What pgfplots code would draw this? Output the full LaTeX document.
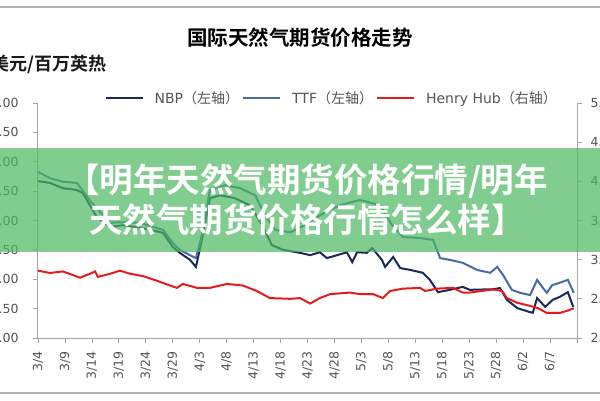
\documentclass[border=0pt]{standalone}
\usepackage{pgfplots}
\pgfplotsset{compat=1.18}
\usepackage{fontspec}
\setmainfont{DejaVu Sans}
\newfontfamily\cjk{Noto Sans CJK SC}[BoldFont={Noto Sans CJK SC Bold}]
\definecolor{nbp}{RGB}{28,40,90}
\definecolor{ttf}{RGB}{70,108,165}
\definecolor{hh}{RGB}{230,28,28}
\definecolor{axgray}{RGB}{165,165,165}
\definecolor{txtgray}{RGB}{85,85,85}
\definecolor{band}{RGB}{76,185,96}
\pgfplotsset{
  mylegimg/.style={legend image code/.code={\draw[#1] (0pt,0pt) -- (37pt,0pt);}},
  common/.style={scale only axis, width=539pt, height=235pt, at={(38pt,62pt)}, anchor=south west,
    xmin=0, xmax=100,
    tick align=outside, major tick length=5pt,
    axis line style={axgray, line width=1pt},
    tick style={axgray, line width=0.8pt},
    tick label style={font=\fontsize{12.5}{14}\selectfont, color=txtgray},
    /pgf/number format/assume math mode=true,
  },
}
\begin{document}
\begin{tikzpicture}[x=1pt,y=1pt]
\fill[white] (0,0) rectangle (600,400);
\draw[axgray!85, line width=2pt] (0,393) -- (600,393);
\draw[axgray!85, line width=2pt] (0,7) -- (600,7);
\node[font=\cjk\bfseries\fontsize{20.5}{22}\selectfont, text=black] at (300,362) {国际天然气期货价格走势};
\node[font=\cjk\bfseries\fontsize{18}{19}\selectfont, text=black!90, anchor=east] at (110,336) {美元/百万英热};

\begin{axis}[common,
  axis x line*=bottom, axis y line*=left,
  ymin=3, ymax=7, ytick={3,3.5,...,7},
  yticklabel style={xshift=-11pt, /pgf/number format/.cd, fixed, fixed zerofill, precision=2},
  xtick={0,5,...,100},
  xticklabels={3/4,3/9,3/14,3/19,3/24,3/29,4/3,4/8,4/13,4/18,4/23,4/28,5/3,5/8,5/13,5/18,5/23,5/28,6/2,6/7,{}},
  x tick label style={rotate=90, anchor=east},
  xticklabel shift=5pt,
  mylegimg,
  legend columns=3,
  legend style={at={(0.545,1.021)}, anchor=center, draw=none, fill=none,
    font=\fontsize{14}{16}\selectfont, text=txtgray,
    /tikz/every even column/.append style={column sep=1pt},
    /tikz/every odd column/.append style={column sep=9pt}},
]
\addplot[nbp, line width=2pt] table {
0 5.67
2.2 5.64
4.6 5.55
7.2 5.52
8.3 5.47
10.9 5.06
13.4 4.89
15.8 4.92
19.5 4.87
23.2 4.79
25.0 4.55
26.3 4.45
28.2 4.33
29.3 4.21
30.4 4.67
31.9 5.38
33.8 5.43
36.5 5.38
39.3 5.26
41.6 4.92
43.4 4.58
45.5 4.50
48.6 4.45
50.5 4.41
52.3 4.46
53.6 4.36
55.5 4.41
57.3 4.46
58.3 4.29
59.2 4.46
61.0 4.45
62.0 4.53
63.8 4.33
64.4 4.21
65.9 4.38
67.2 4.19
69.0 4.16
71.4 4.11
72.7 3.99
74.2 3.78
76.4 3.82
78.8 3.87
80.1 3.82
84.4 3.83
85.7 3.85
87.0 3.65
88.9 3.51
91.3 3.44
91.8 3.43
92.6 3.68
94.1 3.53
95.5 3.65
96.8 3.70
98.3 3.78
99.3 3.53
};
\addlegendentry{NBP{\cjk（左轴）}}
\addplot[ttf, line width=2pt] table {
0 5.83
2.2 5.72
4.6 5.66
7.2 5.64
7.8 5.57
10.0 5.30
13.4 4.96
15.2 4.97
18.9 4.96
23.2 4.84
25.0 4.62
26.3 4.50
28.2 4.41
29.3 4.36
30.4 4.75
31.9 5.52
34.7 5.60
37.5 5.55
40.3 5.43
42.1 5.09
44.0 4.84
46.8 4.80
49.5 4.92
52.3 5.09
56.0 5.26
59.7 5.35
63.5 5.26
65.7 4.92
67.7 4.72
70.9 4.70
73.3 4.67
74.6 4.36
76.4 4.33
78.8 4.28
81.4 4.16
83.9 4.11
85.2 4.21
86.3 4.07
87.9 3.82
89.4 3.77
91.3 3.73
92.6 3.99
93.7 3.85
94.4 3.77
95.4 3.90
96.8 3.94
98.3 3.99
99.4 3.77
};
\addlegendentry{TTF{\cjk（左轴）}}
\addlegendimage{hh, line width=2pt}
\addlegendentry{Henry Hub{\cjk（右轴）}}
\end{axis}

\begin{axis}[common,
  axis y line*=right, axis x line=none,
  ymin=2, ymax=5, ytick={2,2.5,...,5},
  yticklabel style={xshift=5pt, /pgf/number format/.cd, fixed, fixed zerofill, precision=1},
]
\addplot[hh, line width=2pt] table {
0 2.86
2.2 2.83
4.6 2.85
7.8 2.77
10.0 2.83
10.6 2.85
11.1 2.78
13.4 2.82
15.2 2.86
17.1 2.82
19.5 2.79
22.1 2.73
24.5 2.67
25.8 2.64
26.9 2.69
29.5 2.64
31.9 2.64
35.1 2.69
38.0 2.67
40.6 2.60
43.0 2.51
46.8 2.50
48.6 2.51
50.5 2.44
52.3 2.51
54.2 2.56
57.9 2.58
59.7 2.56
62.2 2.56
64.0 2.51
65.3 2.60
67.7 2.63
70.9 2.64
71.8 2.60
74.0 2.63
77.0 2.64
78.8 2.58
80.1 2.58
84.4 2.62
86.1 2.60
87.0 2.51
88.9 2.45
91.3 2.41
92.8 2.38
94.4 2.32
96.8 2.32
98.3 2.35
99.4 2.38
};
\end{axis}

\fill[band, opacity=0.7] (0,148) rectangle (600,252);
\node[font=\cjk\bfseries\fontsize{33.5}{40}\selectfont, text=white, align=center] at (307,200)
  {【明年天然气期货价格行情/明年\\天然气期货价格行情怎么样】};

\pgfresetboundingbox
\useasboundingbox (0,0) rectangle (600,400);
\end{tikzpicture}
\end{document}
